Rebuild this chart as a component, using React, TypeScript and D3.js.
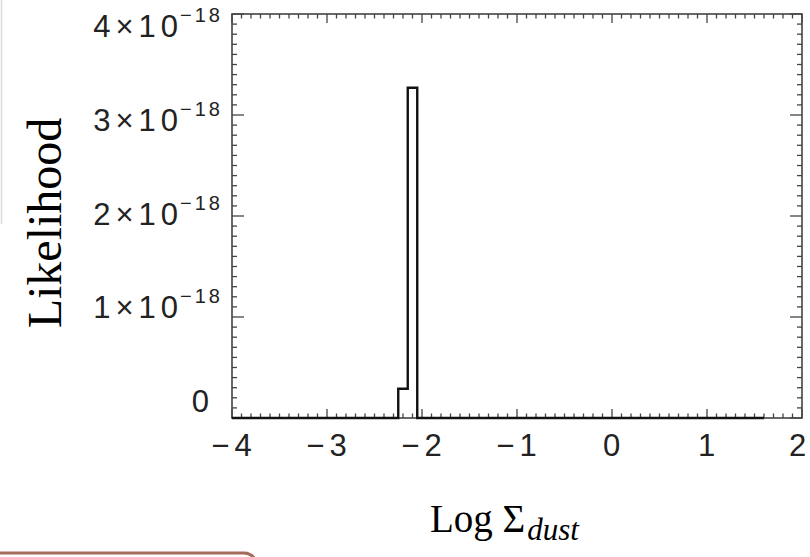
import React from "react";
import * as d3 from "d3";

// histogram: only the non-empty bins, rest of the range is zero
const histRange = [-4, 1.6];
const binStarts = [-2.25, -2.15];
const binWidth = 0.1;
const binValues = [0.29e-18, 3.27e-18];

const xTicks = [-4, -3, -2, -1, 0, 1, 2];
const xTickLabels = ["\u22124", "\u22123", "\u22122", "\u22121", "0", "1", "2"];
const yTicks = [0, 1e-18, 2e-18, 3e-18, 4e-18];
const yTickMantissa = ["0", "1\u00d710", "2\u00d710", "3\u00d710", "4\u00d710"];
const yTickExponent = ["", "\u221218", "\u221218", "\u221218", "\u221218"];

const W = 810;
const H = 557;
const margin = { left: 232, right: 8, top: 14, bottom: 139 };

const tickFont = "'Liberation Sans', Arial, sans-serif";
const serif = "'Liberation Serif', 'Times New Roman', serif";

export default function App() {
  const x = d3
    .scaleLinear()
    .domain([-4, 2])
    .range([margin.left, W - margin.right]);
  const y = d3
    .scaleLinear()
    .domain([0, 4e-18])
    .range([H - margin.bottom, margin.top]);
  // tick labels sit slightly inside the end ticks in the original
  const yLabel = d3.scaleLinear().domain([0, 4e-18]).range([401, 26]);

  const x0 = x.range()[0];
  const x1 = x.range()[1];
  const y0 = y.range()[0];
  const y1 = y.range()[1];

  // step path for the histogram
  const path = d3.path();
  path.moveTo(x(histRange[0]), y(0));
  binStarts.forEach((b, i) => {
    path.lineTo(x(b), i === 0 ? y(0) : y(binValues[i - 1]));
    path.lineTo(x(b), y(binValues[i]));
    path.lineTo(x(b + binWidth), y(binValues[i]));
  });
  const last = binStarts[binStarts.length - 1] + binWidth;
  path.lineTo(x(last), y(0));
  path.lineTo(x(histRange[1]), y(0));

  const xMinor = d3.range(-40, 21).map((v) => v / 10);
  const yMinor = d3.range(0, 41).map((v) => v * 1e-19);
  const isMajorX = (v: number) => Math.abs(v - Math.round(v)) < 1e-9;
  const isMajorY = (v: number) =>
    Math.abs(v / 1e-18 - Math.round(v / 1e-18)) < 1e-6;

  const axisColor = "#444";

  return (
    <div style={{ position: "absolute", left: 0, top: 0 }}>
      <svg width={W} height={H} style={{ display: "block", background: "#fff" }}>
        {/* faint slide edge at the left */}
        <line x1={1.5} x2={1.5} y1={0} y2={224} stroke="#ddd" strokeWidth={1.5} />

        {/* ticks on all four sides */}
        <g stroke={axisColor} strokeWidth={1.3}>
          {xMinor.map((v, i) => {
            const len = isMajorX(v) ? 9 : 4.5;
            return (
              <g key={"xt" + i}>
                <line x1={x(v)} x2={x(v)} y1={y0} y2={y0 - len} />
                <line x1={x(v)} x2={x(v)} y1={y1} y2={y1 + len} />
              </g>
            );
          })}
          {yMinor.map((v, i) => {
            const len = isMajorY(v) ? 12 : 5;
            return (
              <g key={"yt" + i}>
                <line x1={x0} x2={x0 + len} y1={y(v)} y2={y(v)} />
                <line x1={x1} x2={x1 - len} y1={y(v)} y2={y(v)} />
              </g>
            );
          })}
        </g>

        <rect
          x={x0}
          y={y1}
          width={x1 - x0}
          height={y0 - y1}
          fill="none"
          stroke={axisColor}
          strokeWidth={1.6}
        />

        <path
          d={path.toString()}
          fill="none"
          stroke="#111"
          strokeWidth={2.4}
          strokeLinejoin="miter"
        />

        {/* x tick labels */}
        <g fontFamily={tickFont} fontSize={31} fill="#222" letterSpacing={5}>
          {xTicks.map((v, i) => (
            <text
              key={"xl" + i}
              x={x(v) + (i === xTicks.length - 1 ? -2 : 2)}
              y={456}
              textAnchor="middle"
            >
              {xTickLabels[i]}
            </text>
          ))}
        </g>

        {/* y tick labels */}
        <g fontFamily={tickFont} fill="#222">
          {yTicks.map((v, i) => (
            <text
              key={"yl" + i}
              x={i === 0 ? 214 : 223}
              y={yLabel(v) + 11}
              textAnchor="end"
              fontSize={31}
              letterSpacing={5}
            >
              {yTickMantissa[i]}
              {yTickExponent[i] && (
                <tspan dy={-15} dx={-3} fontSize={20} letterSpacing={3}>
                  {yTickExponent[i]}
                </tspan>
              )}
            </text>
          ))}
        </g>

        {/* axis titles */}
        <text
          transform={`translate(61, 223) rotate(-90)`}
          textAnchor="middle"
          fontFamily={serif}
          fontSize={48}
          fill="#000"
        >
          Likelihood
        </text>
        <text x={430} y={532} fontFamily={serif} fontSize={39} fill="#000">
          Log Σ
          <tspan dy={8} fontSize={31} fontStyle="italic" dx={2}>
            dust
          </tspan>
        </text>

        {/* top edge of a rounded box from the slide */}
        <path
          d={`M -10 553 L 244 553 Q 252 553 256 561`}
          fill="none"
          stroke="#a46d5c"
          strokeWidth={3}
        />
      </svg>
    </div>
  );
}
